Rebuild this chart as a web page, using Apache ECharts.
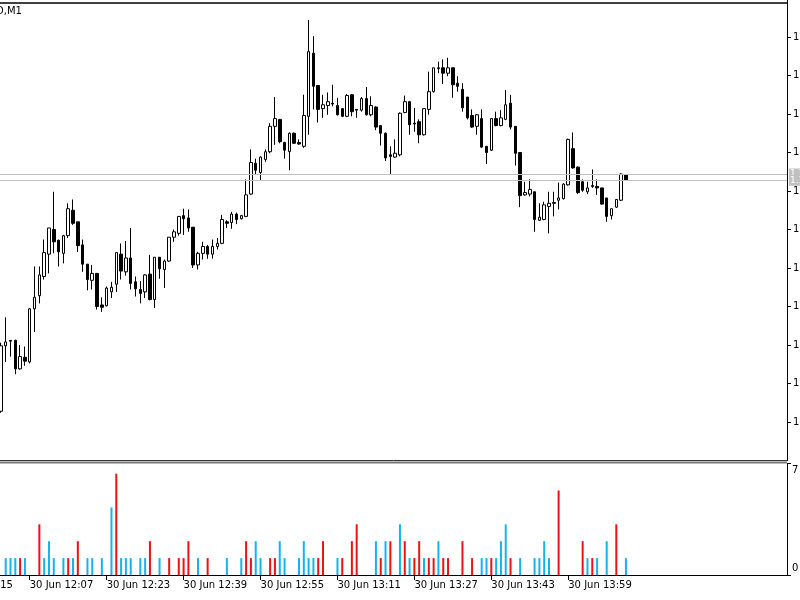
<!DOCTYPE html>
<html><head><meta charset="utf-8">
<script src="https://cdn.jsdelivr.net/npm/echarts@6/dist/echarts.min.js"></script>
<style>html,body{margin:0;padding:0;background:#fff;overflow:hidden}#c{width:800px;height:600px}</style>
</head><body><div id="c"></div>
<script>
// ---- data: EURUSD M1, 30 Jun 2015, one value per minute bar (first bar 12:01) ----
const OPEN = [
1.11014,1.11099,1.11106,1.11106,1.11069,1.11084,1.11078,1.11147,1.11164,1.11189,
1.11218,1.11250,1.11236,1.11219,1.11242,1.11275,1.11260,1.11230,1.11205,1.11184,
1.11193,1.11152,1.11151,1.11169,1.11179,1.11218,1.11195,1.11213,1.11182,1.11172,
1.11169,1.11192,1.11159,1.11214,1.11198,1.11209,1.11240,1.11245,1.11268,1.11265,
1.11253,1.11204,1.11219,1.11228,1.11218,1.11228,1.11232,1.11260,1.11259,1.11270,
1.11264,1.11267,1.11296,1.11336,1.11324,1.11341,1.11351,1.11384,1.11393,1.11363,
1.11351,1.11375,1.11363,1.11358,1.11397,1.11479,1.11437,1.11407,1.11411,1.11414,
1.11411,1.11407,1.11397,1.11425,1.11406,1.11405,1.11420,1.11399,1.11409,1.11385,
1.11375,1.11347,1.11344,1.11347,1.11402,1.11416,1.11388,1.11390,1.11373,1.11406,
1.11429,1.11460,1.11460,1.11453,1.11460,1.11440,1.11432,1.11422,1.11398,1.11384,
1.11394,1.11358,1.11353,1.11394,1.11385,1.11393,1.11414,1.11384,1.11350,1.11295,
1.11296,1.11299,1.11262,1.11263,1.11280,1.11285,1.11288,1.11290,1.11308,1.11355,
1.11331,1.11312,1.11299,1.11307,1.11306,1.11304,1.11291,1.11268,1.11279,1.11288,
1.11321];
const HIGH = [
1.11103,1.11136,1.11106,1.11107,1.11100,1.11098,1.11148,1.11202,1.11202,1.11237,
1.11252,1.11299,1.11237,1.11243,1.11284,1.11289,1.11260,1.11237,1.11205,1.11204,
1.11193,1.11162,1.11176,1.11182,1.11220,1.11232,1.11235,1.11252,1.11189,1.11183,
1.11192,1.11217,1.11214,1.11214,1.11211,1.11240,1.11250,1.11267,1.11277,1.11276,
1.11253,1.11221,1.11234,1.11230,1.11237,1.11239,1.11269,1.11262,1.11273,1.11272,
1.11269,1.11315,1.11354,1.11342,1.11345,1.11354,1.11388,1.11422,1.11393,1.11364,
1.11376,1.11376,1.11367,1.11425,1.11522,1.11501,1.11437,1.11425,1.11428,1.11438,
1.11421,1.11407,1.11426,1.11426,1.11406,1.11422,1.11435,1.11423,1.11410,1.11385,
1.11376,1.11358,1.11367,1.11402,1.11424,1.11417,1.11408,1.11393,1.11407,1.11455,
1.11460,1.11468,1.11471,1.11473,1.11460,1.11449,1.11440,1.11422,1.11406,1.11400,
1.11406,1.11358,1.11394,1.11403,1.11405,1.11431,1.11425,1.11384,1.11350,1.11312,
1.11315,1.11299,1.11284,1.11286,1.11299,1.11299,1.11311,1.11310,1.11368,1.11376,
1.11332,1.11315,1.11312,1.11328,1.11315,1.11304,1.11291,1.11277,1.11289,1.11323,
1.11322];
const LOW = [
1.11012,1.11078,1.11085,1.11062,1.11068,1.11073,1.11076,1.11117,1.11154,1.11185,
1.11193,1.11219,1.11202,1.11206,1.11239,1.11256,1.11221,1.11195,1.11171,1.11172,
1.11146,1.11143,1.11150,1.11161,1.11169,1.11185,1.11190,1.11172,1.11163,1.11154,
1.11161,1.11158,1.11148,1.11186,1.11174,1.11208,1.11234,1.11242,1.11243,1.11247,
1.11200,1.11198,1.11211,1.11212,1.11212,1.11224,1.11231,1.11252,1.11251,1.11257,
1.11263,1.11266,1.11295,1.11322,1.11314,1.11338,1.11349,1.11360,1.11362,1.11342,
1.11327,1.11361,1.11360,1.11356,1.11373,1.11406,1.11389,1.11395,1.11399,1.11410,
1.11398,1.11396,1.11396,1.11397,1.11395,1.11403,1.11398,1.11397,1.11379,1.11359,
1.11339,1.11321,1.11343,1.11345,1.11401,1.11373,1.11377,1.11362,1.11372,1.11399,
1.11428,1.11453,1.11439,1.11449,1.11421,1.11429,1.11403,1.11393,1.11382,1.11373,
1.11356,1.11335,1.11352,1.11384,1.11384,1.11392,1.11380,1.11333,1.11279,1.11294,
1.11293,1.11247,1.11261,1.11262,1.11245,1.11267,1.11276,1.11289,1.11307,1.11329,
1.11296,1.11299,1.11296,1.11304,1.11295,1.11282,1.11260,1.11263,1.11278,1.11287,
1.11313];
const CLOSE = [
1.11099,1.11104,1.11105,1.11069,1.11085,1.11079,1.11147,1.11162,1.11191,1.11220,
1.11252,1.11234,1.11221,1.11242,1.11277,1.11258,1.11229,1.11205,1.11185,1.11193,
1.11150,1.11149,1.11174,1.11175,1.11220,1.11196,1.11213,1.11180,1.11173,1.11167,
1.11191,1.11159,1.11214,1.11199,1.11209,1.11240,1.11247,1.11267,1.11264,1.11252,
1.11204,1.11219,1.11228,1.11218,1.11228,1.11232,1.11263,1.11258,1.11270,1.11263,
1.11268,1.11295,1.11337,1.11327,1.11344,1.11351,1.11384,1.11394,1.11364,1.11353,
1.11375,1.11362,1.11361,1.11398,1.11481,1.11436,1.11406,1.11412,1.11416,1.11413,
1.11399,1.11397,1.11424,1.11403,1.11405,1.11420,1.11399,1.11411,1.11383,1.11375,
1.11343,1.11345,1.11349,1.11401,1.11416,1.11386,1.11387,1.11373,1.11407,1.11429,
1.11460,1.11459,1.11453,1.11460,1.11438,1.11436,1.11408,1.11395,1.11383,1.11399,
1.11357,1.11350,1.11394,1.11385,1.11395,1.11412,1.11383,1.11349,1.11294,1.11298,
1.11302,1.11263,1.11266,1.11282,1.11284,1.11284,1.11291,1.11309,1.11367,1.11330,
1.11298,1.11301,1.11304,1.11306,1.11304,1.11283,1.11267,1.11277,1.11289,1.11322,
1.11314];
const VOLUME = [
0,1,1,1,1,1,0,0,3,1, 2,1,0,1,1,1,2,0,1,1, 0,1,0,4,6,1,1,1,0,1,
1,2,0,1,0,1,0,1,1,2, 0,1,0,1,0,0,0,1,0,0, 1,2,1,2,1,0,1,1,2,1,
0,0,1,2,1,1,1,2,0,0, 1,1,0,2,3,0,0,0,2,1, 2,2,0,3,2,1,1,2,1,1,
1,2,1,1,0,0,2,0,1,0, 1,1,1,1,2,3,1,0,1,0, 0,1,1,2,1,0,5,0,0,0,
0,2,1,1,1,0,2,0,3,0, 1];
// b = blue volume bar, r = red volume bar, . = no bar
const VOLUME_COLOR_KEY = (".bbbrb..rb" + "bb.brbr.bb" + ".b.brbbb.b" + "br.b.r.rrr" + ".b.r...b.." +
  "brrbb.rrbb" + "..bbbbrr.." + "br.rr...br" + "br.brbrrbr" + "rbrr..r.r." +
  "bbrbbbr.b." + ".bbbb.r..." + ".rbrb.b.r." + "b").split("");
const BID = 1.11314, ASK = 1.11322;
const PRICE_TICKS = [1.11000,1.11050,1.11100,1.11150,1.11200,1.11250,1.11300,1.11350,1.11400,1.11450,1.11500];
const VOLUME_TICKS = [0, 6.6];
const VOLUME_TICK_LABELS = ["0", "7"];
const TIME_LABELS = ["30 Jun 2015","30 Jun 12:07","30 Jun 12:23","30 Jun 12:39","30 Jun 12:55","30 Jun 13:11","30 Jun 13:27","30 Jun 13:43","30 Jun 13:59"];
const TIME_LABEL_BARS = [-10, 6, 22, 38, 54, 70, 86, 102, 118];
const TITLE = "D,M1";

// ---- layout ----
const PAD = 10, EMPTY_RIGHT = 33;
const N = PAD + OPEN.length + EMPTY_RIGHT;
const BAR_STEP = 4.808;
const AXIS_X = 787;
const GRID_LEFT = AXIS_X - N * BAR_STEP;
const FONT = "DejaVu Sans";

const categories = [];
const startMin = 12 * 60 + 1 - PAD;
for (let i = 0; i < N; i++) {
  const m = startMin + i;
  categories.push(String(Math.floor(m / 60)).padStart(2, "0") + ":" + String(m % 60).padStart(2, "0"));
}
const candleData = [], volData = [];
for (let i = 0; i < N; i++) {
  const j = i - PAD;
  if (j >= 0 && j < OPEN.length) {
    candleData.push([OPEN[j], CLOSE[j], LOW[j], HIGH[j]]);
    const k = VOLUME_COLOR_KEY[j];
    volData.push({ value: VOLUME[j], itemStyle: { color: k === "r" ? "#ee1111" : "#12b4f0" } });
  } else {
    candleData.push(["-", "-", "-", "-"]);
    volData.push("-");
  }
}
const labelAt = {};
TIME_LABEL_BARS.forEach((b, i) => { labelAt[b + PAD] = TIME_LABELS[i]; });
const isLabel = (idx) => labelAt[idx] !== undefined;

const chart = echarts.init(document.getElementById("c"), null, { renderer: "canvas" });
chart.setOption({
  animation: false,
  backgroundColor: "#ffffff",
  grid: [
    { left: GRID_LEFT, right: 800 - AXIS_X, top: -1.5, height: 462, containLabel: false, outerBoundsMode: "none" },
    { left: GRID_LEFT, right: 800 - AXIS_X, top: 463.5, height: 111.5, containLabel: false, outerBoundsMode: "none" }
  ],
  xAxis: [
    { type: "category", gridIndex: 0, data: categories, boundaryGap: true,
      axisLine: { show: false }, axisTick: { show: false }, axisLabel: { show: false }, splitLine: { show: false } },
    { type: "category", gridIndex: 1, data: categories, boundaryGap: true,
      axisLine: { show: true, lineStyle: { color: "#000", width: 1 } },
      axisTick: { show: true, alignWithLabel: true, length: 5, interval: (idx) => isLabel(idx), lineStyle: { color: "#000" } },
      axisLabel: { show: true, interval: (idx) => isLabel(idx), formatter: (v, idx) => labelAt[idx] || "",
        align: "left", margin: 5, color: "#000", fontSize: 10, fontFamily: FONT, hideOverlap: false },
      splitLine: { show: false } }
  ],
  yAxis: [
    { type: "value", gridIndex: 0, position: "right", min: 1.1095, max: 1.1155, interval: 0.0005,
      axisLine: { show: true, lineStyle: { color: "#000", width: 1 } },
      axisTick: { show: true, inside: false, length: 4, customValues: PRICE_TICKS, lineStyle: { color: "#000" } },
      axisLabel: { show: true, customValues: PRICE_TICKS,
        formatter: (v) => v.toFixed(5), margin: 6, color: "#000", fontSize: 10, fontFamily: FONT },
      splitLine: { show: false } },
    { type: "value", gridIndex: 1, position: "right", min: 0, max: VOLUME_TICKS[1],
      axisLine: { show: true, lineStyle: { color: "#000", width: 1 } },
      axisTick: { show: true, inside: false, length: 4, customValues: VOLUME_TICKS, lineStyle: { color: "#000" } },
      axisLabel: { show: true, customValues: VOLUME_TICKS, margin: 5, color: "#000", fontSize: 10, fontFamily: FONT,
        formatter: (v) => {
          const i = VOLUME_TICKS.indexOf(v);
          const t = VOLUME_TICK_LABELS[i < 0 ? 0 : i];
          return i === 1 ? "{t|" + t + "}" : "{b|" + t + "}";
        },
        rich: { t: { padding: [13, 0, 0, 0], fontSize: 10, fontFamily: FONT, color: "#000" },
                b: { padding: [0, 0, 13, 0], fontSize: 10, fontFamily: FONT, color: "#000" } } },
      splitLine: { show: false } }
  ],
  series: [
    { type: "candlestick", xAxisIndex: 0, yAxisIndex: 0, data: candleData, barWidth: 3,
      itemStyle: { color: "#ffffff", color0: "#000000", borderColor: "#000000", borderColor0: "#000000", borderWidth: 1 },
      markLine: { silent: true, symbol: "none", animation: false, precision: 5,
        lineStyle: { color: "#c0c0c0", type: "solid", width: 1 },
        label: { show: true, position: "end", distance: 2, formatter: (p) => Number(p.value).toFixed(5),
          backgroundColor: "#c0c0c0", color: "#ffffff", fontSize: 9, fontFamily: FONT, padding: [1, 1, 1, 1], lineHeight: 9 },
        data: [{ yAxis: ASK }, { yAxis: BID }] } },
    { type: "bar", xAxisIndex: 1, yAxisIndex: 1, data: volData, barWidth: 2 }
  ],
  graphic: [
    { type: "line", shape: { x1: 0, y1: 3, x2: AXIS_X, y2: 3 }, style: { stroke: "#404040", lineWidth: 2 }, z: 10 },
    { type: "line", shape: { x1: 0, y1: 460.5, x2: AXIS_X, y2: 460.5 }, style: { stroke: "#333", lineWidth: 1 }, z: 10 },
    { type: "line", shape: { x1: 0, y1: 462.5, x2: AXIS_X, y2: 462.5 }, style: { stroke: "#777", lineWidth: 2 }, z: 10 },
    { type: "text", left: -4, top: 6, style: { text: TITLE, fontSize: 10, fontFamily: FONT, fill: "#000" }, z: 10 }
  ]
});
</script></body></html>
